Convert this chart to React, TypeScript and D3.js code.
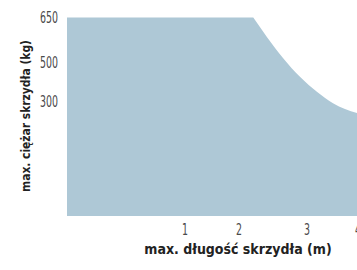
import React from 'react';
import * as d3 from 'd3';

// values
const lengths = [0, 2.21, 2.41, 2.65, 2.9, 3.2, 3.51, 4.0];
const weights = [650, 650, 586, 516, 428, 351, 297, 270];
const xTicks = [1, 2, 3, 4];
const yTicks = [650, 500, 300];

const W = 357;
const H = 270;
const FONT = "'DejaVu Sans Condensed', 'DejaVu Sans', sans-serif";

const App = () => {
  // the axes of the original are not evenly spaced, so piecewise scales
  const x = d3.scaleLinear().domain([0, 1, 2, 3, 4]).range([67, 185, 239, 307, 358]);
  const y = d3.scaleLinear().domain([0, 300, 500, 650]).range([216, 102, 63, 17.5]);

  const pts = lengths.map((l, i) => [x(l), y(weights[i])] as [number, number]);
  const curve = d3.line().curve(d3.curveMonotoneX)(pts.slice(1)) || '';
  const areaPath =
    `M${x(0)},${y(0)}L${pts[0][0]},${pts[0][1]}` +
    curve.replace(/^M/, 'L') +
    `L${x(4)},${y(0)}Z`;

  // narrow tick digits like the original's condensed face
  const squeeze = (cx: number) => `translate(${cx},0) scale(0.7,1) translate(${-cx},0)`;

  return (
    <svg width={W} height={H} style={{ position: 'absolute', left: 0, top: 0 }}>
      <rect width={W} height={H} fill="#ffffff" />
      <path d={areaPath} fill="#aec8d6" />

      {yTicks.map(t => (
        <text key={t} x={58} y={y(t)} textAnchor="end" dominantBaseline="central"
          fontFamily={FONT} fontSize={15} fill="#4a4a4a" transform={squeeze(58)}>{t}</text>
      ))}
      {xTicks.map(t => (
        <text key={t} x={x(t)} y={230} textAnchor="middle" dominantBaseline="central"
          fontFamily={FONT} fontSize={15} fill="#4a4a4a" transform={squeeze(x(t))}>{t}</text>
      ))}

      <text x={238} y={249} textAnchor="middle" dominantBaseline="central"
        fontFamily={FONT} fontStretch="condensed" fontWeight="bold" fontSize={14} fill="#222">
        max. długość skrzydła (m)
      </text>
      <text transform={`translate(25,116) rotate(-90)`} textAnchor="middle" dominantBaseline="central"
        fontFamily={FONT} fontStretch="condensed" fontWeight="bold" fontSize={13} fill="#222"
        textLength={152} lengthAdjust="spacingAndGlyphs">
        max. ciężar skrzydła (kg)
      </text>
    </svg>
  );
};

export default App;
